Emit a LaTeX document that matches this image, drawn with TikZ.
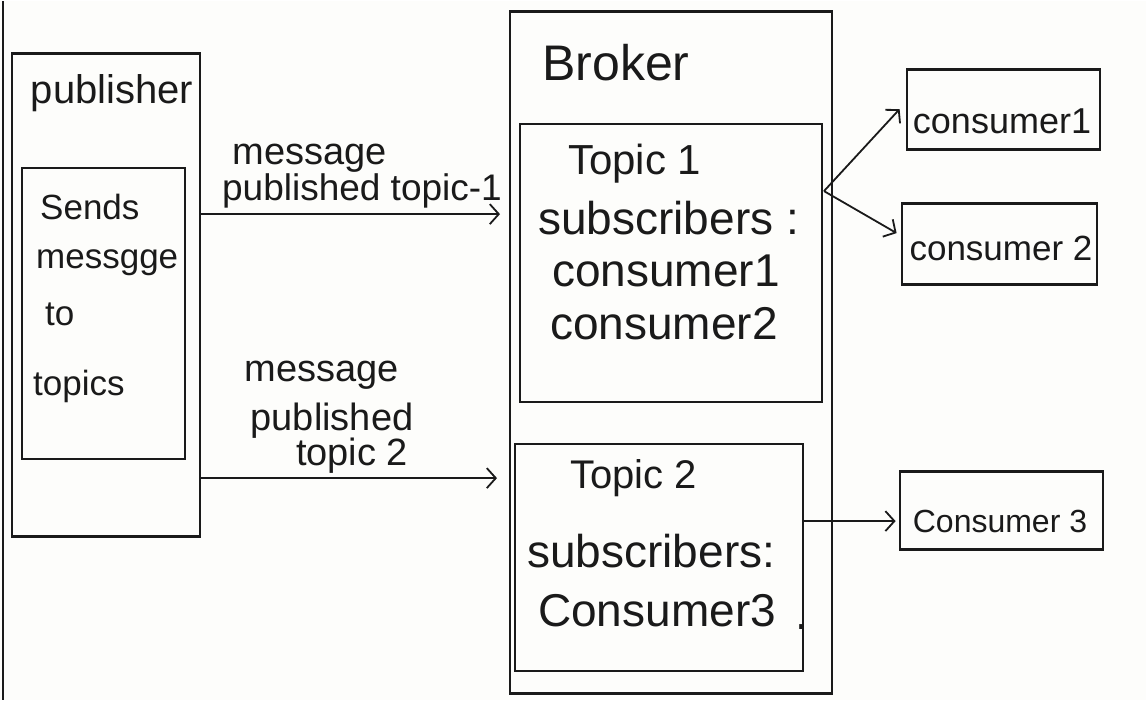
\documentclass[tikz,border=0pt]{standalone}
\usepackage{fontspec}
\setmainfont{Liberation Sans}
\usetikzlibrary{arrows.meta}
\definecolor{ink}{HTML}{1A1A1A}
\definecolor{paper}{HTML}{FDFDFB}
\begin{document}
\begin{tikzpicture}[x=1pt,y=-1pt,
  box/.style={draw=ink, line width=2.8pt, inner sep=0pt},
  inbox/.style={draw=ink, line width=2.4pt, inner sep=0pt},
  txt/.style={text=ink, inner sep=0pt, font=\fontsize{#1pt}{#1pt}\selectfont},
  txt/.default=38,
  arr/.style={draw=ink, line width=1.8pt, -{Straight Barb[length=9pt,width=20pt,line width=1.8pt]}}
]
% sheet
\fill[paper] (0,0) rectangle (1146,699);
\draw[ink, line width=2.2pt] (3,0) -- (3,699);

% publisher
\node[box, minimum width=188pt, minimum height=483pt] (pub) at (106,293.5) {};
\node[txt=40] (publbl) at (112,92) {publisher};
\node[inbox, minimum width=163pt, minimum height=291pt] (pubin) at (103.5,312.5) {};
\node[txt=35, anchor=west] (s1) at (40,206) {Sends};
\node[txt=35, anchor=west] (s2) at (36,262) {messgge};
\node[txt=35, anchor=west] (s3) at (45,313) {to};
\node[txt=35, anchor=west] (s4) at (33,385) {topics};

% broker with its two topics
\node[box, minimum width=322pt, minimum height=682pt] (brk) at (671,351) {};
\node[txt=50, anchor=west] (brklbl) at (542,62) {Broker};

\node[inbox, minimum width=302pt, minimum height=278pt] (tp1) at (671,262) {};
\node[txt=42, anchor=west] (t1a) at (568,163) {Topic 1};
\node[txt=46, anchor=west] (t1b) at (538,217) {subscribers :};
\node[txt=46, anchor=west] (t1c) at (552,270) {consumer1};
\node[txt=46, anchor=west] (t1d) at (550,323) {consumer2};

\node[inbox, minimum width=288pt, minimum height=227pt] (tp2) at (659,556.5) {};
\node[txt=40, anchor=west] (t2a) at (570,477) {Topic 2};
\node[txt=46, anchor=west] (t2b) at (527,550) {subscribers:};
\node[txt=46, anchor=west] (t2c) at (538,610) {Consumer3};
\node[txt=46] (t2d) at (802,626) {.};

% consumers
\node[box, minimum width=193pt, minimum height=80pt] (c1) at (1003.5,108) {};
\node[txt=36] (c1lbl) at (1002,120) {consumer1};
\node[box, minimum width=195pt, minimum height=81pt] (c2) at (999.5,242.5) {};
\node[txt=35] (c2lbl) at (1001,247) {consumer 2};
\node[box, minimum width=203pt, minimum height=78pt] (c3) at (1001.5,509) {};
\node[txt=32] (c3lbl) at (1000,520) {Consumer 3};

% publishing arrows
\coordinate (in1) at (500,213);
\coordinate (in2) at (497,477);
\draw[arr] (pub.east |- in1) -- (in1);
\draw[arr] (pub.east |- in2) -- (in2);
\node[txt] (m1a) at (310,157) {message};
\node[txt=37] (m1b) at (362,190) {published topic-1};
\node[txt] (m2a) at (322,374) {message};
\node[txt] (m2b) at (332,420) {published};
\node[txt] (m2c) at (352,455) {topic 2};

% delivery to subscribers
\coordinate (fan) at (824,190);
\draw[arr] (fan) -- ([xshift=-6pt]c1.west);
\draw[arr] (fan) -- ([xshift=-4pt]c2.west |- 0,232);
\draw[arr] (tp2.east |- 0,520) -- ([xshift=-3pt]c3.west |- 0,520);
\end{tikzpicture}
\end{document}
